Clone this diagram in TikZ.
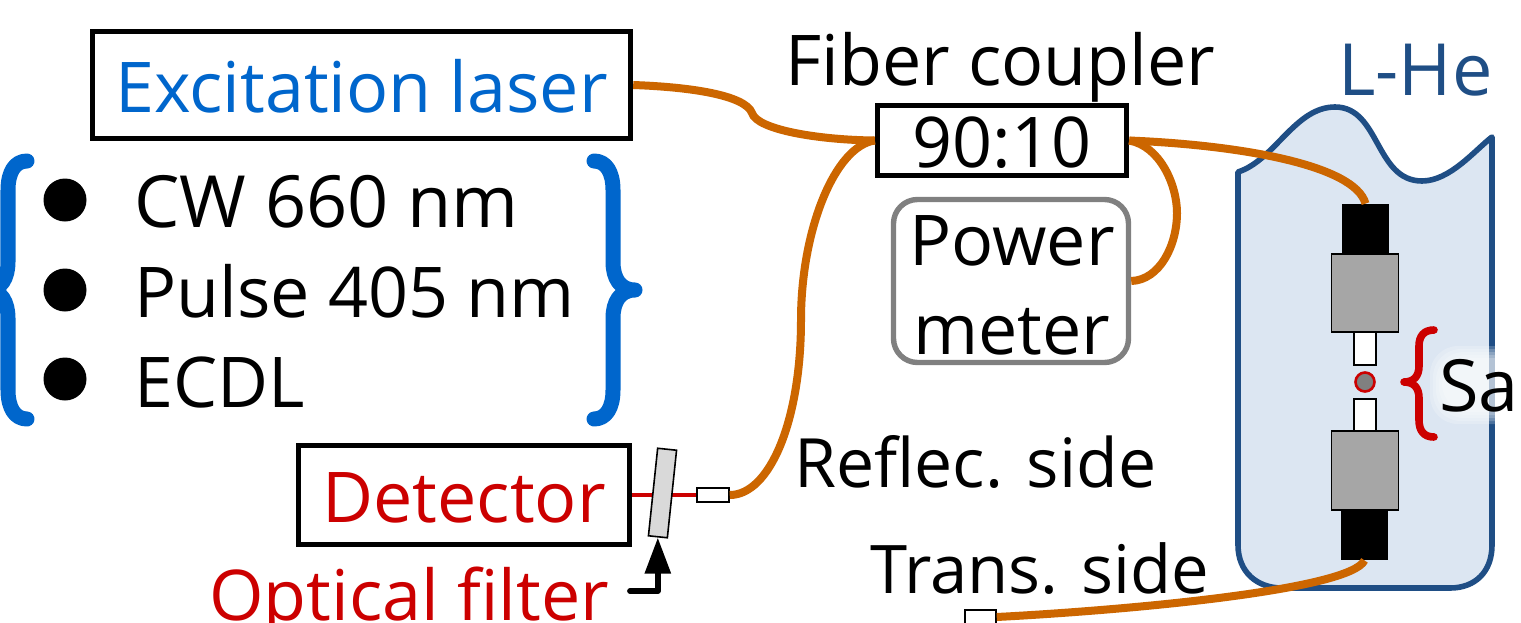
\documentclass[tikz,border=0pt]{standalone}
\usepackage{fontspec}
\setmainfont{Open Sans}
\usetikzlibrary{arrows.meta}
\definecolor{fiberorange}{HTML}{CC6600}
\definecolor{bracketblue}{HTML}{0066CC}
\definecolor{filterred}{HTML}{CC0000}
\definecolor{cryoline}{HTML}{1F4E85}
\definecolor{cryofill}{HTML}{DCE6F2}
\tikzset{
    txt/.style={inner sep=0pt,font=\fontsize{35}{44.5}\selectfont},
    lbl/.style={txt,anchor=base west},
    box/.style={txt,draw,line width=2.7pt,fill=white,text height=27pt,text depth=0pt},
    fiber/.style={draw=fiberorange,line width=4pt},
    ferrule/.style={draw,fill=white,line width=0.7pt,inner sep=0pt},
    sleeve/.style={draw,fill=black!35,line width=0.8pt,inner sep=0pt},
    ferrulecap/.style={fill=black,inner sep=0pt},
    bracket/.style={line width=7.5pt,line cap=round,line join=round,draw=bracketblue},
    dotmark/.style={circle,fill=black,inner sep=0pt,minimum size=21.5pt},
}
\begin{document}
\begin{tikzpicture}[x=0.5pt,y=-0.5pt]
    \path[use as bounding box,clip] (0,0) rectangle (1521,622);
    \fill[white] (0,0) rectangle (1521,622);

    \draw[cryoline,fill=cryofill,line width=2.8pt,line join=round]
        (1238,172) .. controls (1275,160) and (1295,107) .. (1335,107)
        .. controls (1380,107) and (1375,181) .. (1422,181)
        .. controls (1450,181) and (1475,150) .. (1492,137)
        -- (1492,545) .. controls (1492,572) and (1475,588) .. (1450,588)
        -- (1282,588) .. controls (1257,588) and (1238,572) .. (1238,545) -- cycle;

    \node[box,minimum width=269pt,minimum height=53.5pt,text=bracketblue] (laser) at (361.5,85) {Excitation laser};
    \node[box,minimum width=124.5pt,minimum height=35pt] (coupler) at (1002,140.5) {90:10};
    \node[draw=black!50,fill=white,line width=2.7pt,rounded corners=12pt,minimum width=117.5pt,minimum height=81.5pt] (meter) at (1011,281) {};
    \node[txt,align=center] (metertxt) at (1012,285) {Power\\meter};
    \node[box,minimum width=165.5pt,minimum height=49.5pt,text=filterred] (detector) at (464,495) {Detector};

    \node[ferrulecap,minimum width=23.5pt,minimum height=25pt] (captop) at (1365.5,229) {};
    \node[ferrulecap,minimum width=23.5pt,minimum height=25pt] (capbot) at (1364.5,535) {};
    \node[ferrule,minimum width=11pt,minimum height=16.5pt] (ferrtop) at (1365,348.5) {};
    \node[ferrule,minimum width=11pt,minimum height=16pt] (ferrbot) at (1365,415) {};
    \node[sleeve,minimum width=33.5pt,minimum height=39pt] (sleevetop) at (1365,293) {};
    \node[sleeve,minimum width=33.5pt,minimum height=39.5pt] (sleevebot) at (1365,470.5) {};
    \node[circle,draw=filterred,fill=black!50,line width=1.3pt,inner sep=0pt,minimum size=9.5pt] (sample) at (1365,382) {};

    \node[ferrule,minimum width=16pt,minimum height=7pt] (collrefl) at (713,495) {};
    \node[ferrule,minimum width=15.5pt,minimum height=7pt] (colltrans) at (980.5,617) {};

    \draw[fiber] (laser.east) .. controls (690,87) and (745,95) .. (752,113)
        .. controls (757,130) and (820,140) .. (coupler.west);
    \draw[fiber] (coupler.west) .. controls (835,146) and (801,230) .. (801,320)
        .. controls (801,420) and (770,495) .. (collrefl.east);
    \draw[fiber] (coupler.east) .. controls (1240,145) and (1355,165) .. (captop.north);
    \draw[fiber] (coupler.east) .. controls (1160,146) and (1177,185) .. (1177,213)
        .. controls (1177,245) and (1160,280) .. (meter.east);
    \draw[fiber] (capbot.south) .. controls (1350,590) and (1130,610) .. (colltrans.east);

    \draw[filterred,line width=2.4pt] (detector.east) -- (collrefl.west);
    \node[draw,fill=black!15,line width=0.8pt,rotate=-6,inner sep=0pt,minimum width=9.5pt,minimum height=44pt] (filter) at (662.5,493) {};
    \coordinate (filterstart) at (630,591);
    \draw[line width=2.9pt,line cap=round,line join=round,-{Triangle[length=18pt,width=12.5pt]}] (filterstart) -| (filter.south);

    \draw[bracket] (27,161) .. controls (15,161) and (8,172) .. (8,190) -- (8,262)
        .. controls (8,278) and (1,290) .. (-12,290) .. controls (1,290) and (8,302) .. (8,318)
        -- (8,390) .. controls (8,408) and (15,419) .. (27,419);
    \draw[bracket] (594,161) .. controls (606,161) and (613,172) .. (613,190) -- (613,262)
        .. controls (613,278) and (620,290) .. (635,290) .. controls (620,290) and (613,302) .. (613,318)
        -- (613,390) .. controls (613,408) and (606,419) .. (594,419);
    \draw[bracket,draw=filterred,line width=3.8pt] (1434,330) .. controls (1424,330) and (1419,336) .. (1419,346) -- (1419,366)
        .. controls (1419,376) and (1414,382) .. (1404,382) .. controls (1414,382) and (1419,388) .. (1419,398)
        -- (1419,420) .. controls (1419,431) and (1424,437) .. (1434,437);

    \foreach \grow in {0,3,6,9,12}
        \fill[white,opacity=0.2,rounded corners=14pt] (1430+\grow,346+\grow) rectangle (1540,424-\grow);

    \node[dotmark] (dota) at (65,200) {};
    \node[dotmark] (dotb) at (65,290) {};
    \node[dotmark] (dotc) at (65,379) {};
    \node[lbl,font=\fontsize{36}{44.5}\selectfont] (cw) at (134,227) {CW 660 nm};
    \node[lbl] (pulse) at (134,317) {Pulse 405 nm};
    \node[lbl] (ecdl) at (134,407) {ECDL};
    \node[lbl] (couplertxt) at (785,85) {Fiber coupler};
    \node[lbl,text=cryoline,font=\fontsize{36}{44.5}\selectfont] (lhe) at (1338,95) {L-He};
    \node[lbl,font=\fontsize{36}{44.5}\selectfont] (sa) at (1439,411) {Sa};
    \node[lbl,font=\fontsize{34}{44.5}\selectfont] (reflec) at (794,487) {Reflec. side};
    \node[lbl,font=\fontsize{33.5}{44.5}\selectfont] (trans) at (870,593) {Trans. side};
    \node[lbl,text=filterred] (filtertxt) at (209,620) {Optical filter};
\end{tikzpicture}
\end{document}
